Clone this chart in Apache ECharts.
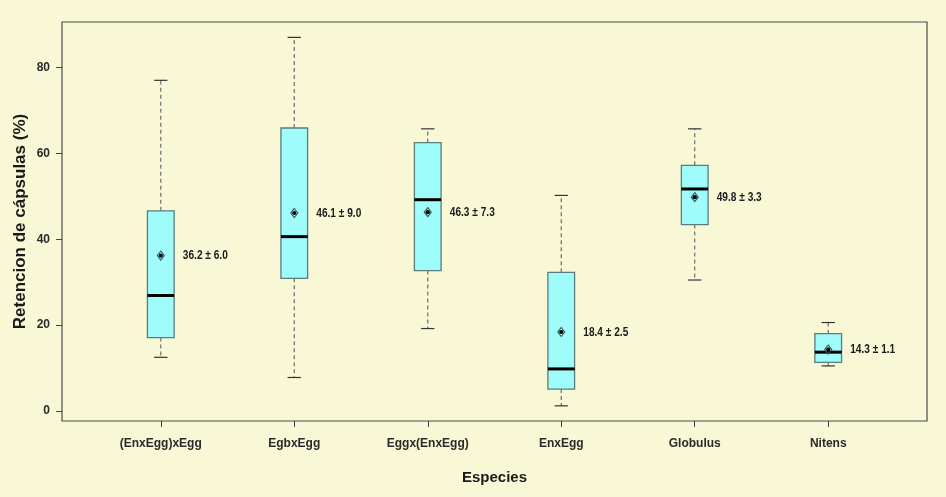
<!DOCTYPE html>
<html>
<head>
<meta charset="utf-8">
<script src="https://cdn.jsdelivr.net/npm/echarts@6/dist/echarts.min.js"></script>
<style>
html,body{margin:0;padding:0;background:#f9f8d6;}
#chart{width:946px;height:497px;}
</style>
</head>
<body>
<div id="chart"></div>
<script>
const categories = ['(EnxEgg)xEgg', 'EgbxEgg', 'Eggx(EnxEgg)', 'EnxEgg', 'Globulus', 'Nitens'];
const whiskerLow  = [12.5, 7.8, 19.2, 1.2, 30.5, 10.5];
const q1          = [17.1, 30.9, 32.7, 5.1, 43.4, 11.3];
const median      = [26.9, 40.6, 49.2, 9.8, 51.7, 13.7];
const q3          = [46.6, 65.9, 62.5, 32.3, 57.2, 18.0];
const whiskerHigh = [77.0, 87.0, 65.7, 50.2, 65.7, 20.6];
const means       = [36.2, 46.1, 46.3, 18.4, 49.8, 14.3];
const errors      = [6.0, 9.0, 7.3, 2.5, 3.3, 1.1];
const yTicks      = [0, 20, 40, 60, 80];
const xPositions  = categories.map((c, i) => i + 1);

const boxData = categories.map((c, i) => [xPositions[i], whiskerLow[i], q1[i], median[i], q3[i], whiskerHigh[i], means[i], errors[i]]);

const FONT = 'Liberation Sans, Arial, sans-serif';

function renderBox(params, api) {
  const x = api.value(0);
  const lo = api.value(1), a = api.value(2), md = api.value(3), b = api.value(4), hi = api.value(5);
  const mn = api.value(6), se = api.value(7);
  const P = v => api.coord([x, v]);
  const cx = P(0)[0];
  const hb = api.size([0.1, 0])[0];
  const hc = api.size([0.05, 0])[0];
  const yLo = P(lo)[1], yA = P(a)[1], yMd = P(md)[1], yB = P(b)[1], yHi = P(hi)[1], yMn = P(mn)[1];
  const dash = {stroke: '#6e6e6e', lineWidth: 1.2, lineDash: [4, 3]};
  const cap = {stroke: '#333', lineWidth: 1.2};
  return {
    type: 'group',
    children: [
      {type: 'line', shape: {x1: cx, y1: yB, x2: cx, y2: yHi}, style: dash},
      {type: 'line', shape: {x1: cx, y1: yA, x2: cx, y2: yLo}, style: dash},
      {type: 'line', shape: {x1: cx - hc, y1: yHi, x2: cx + hc, y2: yHi}, style: cap},
      {type: 'line', shape: {x1: cx - hc, y1: yLo, x2: cx + hc, y2: yLo}, style: cap},
      {type: 'rect', shape: {x: cx - hb, y: yB, width: 2 * hb, height: yA - yB},
        style: {fill: '#a0fbfb', stroke: '#5a7c7c', lineWidth: 1.3}},
      {type: 'line', shape: {x1: cx - hb, y1: yMd, x2: cx + hb, y2: yMd}, style: {stroke: '#000', lineWidth: 3}},
      {type: 'polygon', shape: {points: [[cx, yMn - 4.5], [cx + 3.5, yMn], [cx, yMn + 4.5], [cx - 3.5, yMn]]},
        style: {fill: 'none', stroke: '#345858', lineWidth: 1.1}},
      {type: 'circle', shape: {cx: cx, cy: yMn, r: 2.1}, style: {fill: '#000'}},
      {type: 'text', x: cx + 22, y: yMn, scaleX: 0.78,
        style: {text: mn.toFixed(1) + ' \u00b1 ' + se.toFixed(1), fill: '#1a1a1a', font: 'bold 13px ' + FONT,
          align: 'left', verticalAlign: 'middle'}}
    ]
  };
}

const chart = echarts.init(document.getElementById('chart'), null, {renderer: 'canvas'});
chart.setOption({
  backgroundColor: '#f9f8d6',
  animation: false,
  grid: {left: 62, right: 19, top: 22, bottom: 76, show: true, borderColor: '#4a4a4a', borderWidth: 1.2, backgroundColor: 'transparent'},
  xAxis: {
    type: 'value', min: 0.26, max: 6.74,
    name: 'Especies', nameLocation: 'middle', nameGap: 49, nameMoveOverlap: false,
    nameTextStyle: {fontFamily: FONT, fontWeight: 'bold', fontSize: 15, color: '#1a1a1a'},
    axisLine: {show: false, onZero: false},
    splitLine: {show: false},
    axisTick: {show: true, length: 6, customValues: xPositions, lineStyle: {color: '#444'}},
    axisLabel: {customValues: xPositions, margin: 17, fontFamily: FONT, fontWeight: 'bold', fontSize: 12, color: '#2a2a2a',
      formatter: v => categories[Math.round(v) - 1] || ''}
  },
  yAxis: {
    type: 'value', min: -2.33, max: 90.58,
    name: 'Retencion de c\u00e1psulas (%)', nameLocation: 'middle', nameGap: 33, nameMoveOverlap: false,
    nameTextStyle: {fontFamily: FONT, fontWeight: 'bold', fontSize: 17, color: '#1a1a1a'},
    axisLine: {show: false, onZero: false},
    splitLine: {show: false},
    axisTick: {show: true, length: 6, customValues: yTicks, lineStyle: {color: '#444'}},
    axisLabel: {customValues: yTicks, margin: 12, fontFamily: FONT, fontWeight: 'bold', fontSize: 12, color: '#2a2a2a'}
  },
  series: [{
    type: 'custom',
    renderItem: renderBox,
    data: boxData,
    encode: {x: 0, y: [1, 5]},
    clip: false
  }]
});
</script>
</body>
</html>
